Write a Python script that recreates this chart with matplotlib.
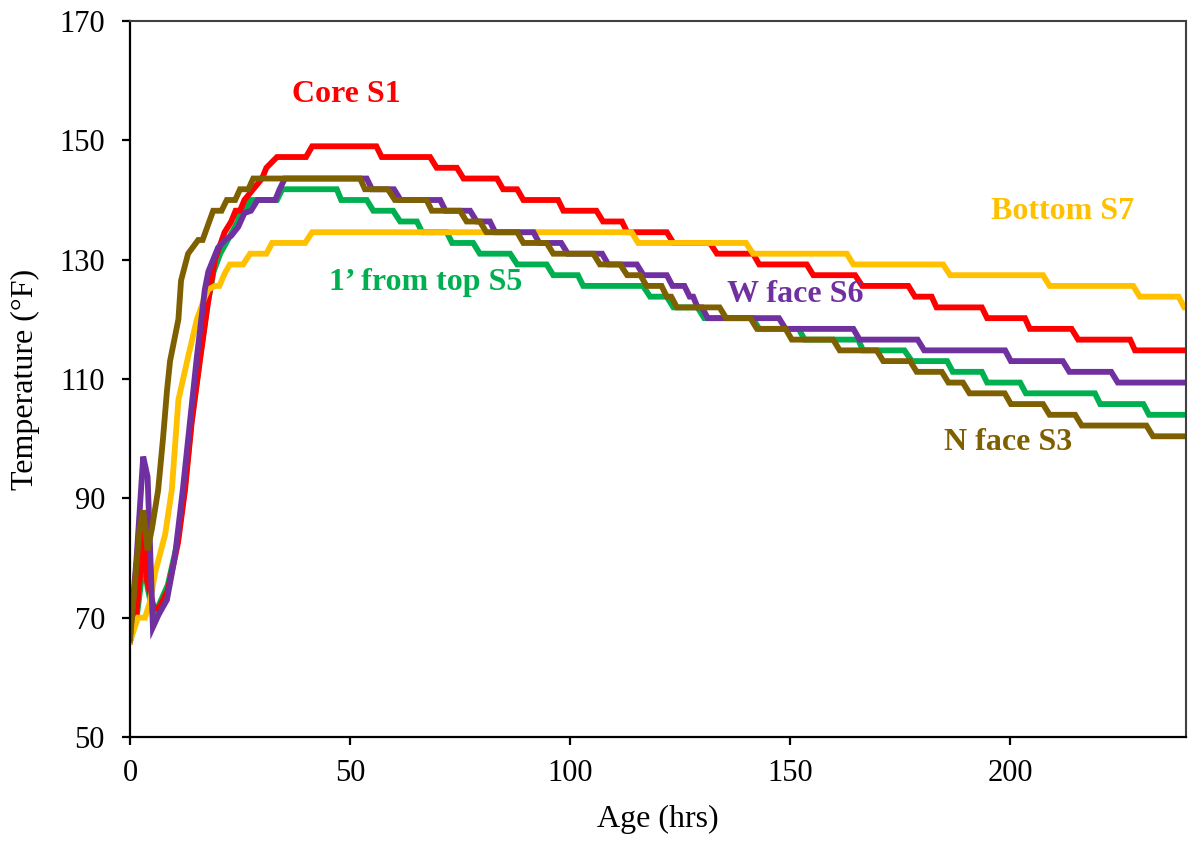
import numpy as np
import matplotlib
matplotlib.use("Agg")
import matplotlib.pyplot as plt

plt.rcParams["font.family"] = ["Liberation Serif", "DejaVu Serif"]

# (age in hrs, temperature in °F) breakpoints for each sensor
core_s1 = [(0, 66), (1.5, 71), (2.7, 80), (3.1, 84.5), (3.9, 76), (5.5, 71.5), (6.5, 71.5),
           (8.6, 74.6), (10.9, 82.5), (12.5, 91.4), (14, 102.6), (16, 113.7), (17.8, 123.2),
           (19.3, 130), (21.5, 134.6), (23, 136.4), (24, 138.2), (25, 138.2), (26, 140),
           (28, 141.8), (30, 143.6), (31, 145.4), (33.4, 147.2), (40, 147.2), (41.4, 149),
           (56, 149), (57.2, 147.2), (68.2, 147.2), (69.7, 145.4), (74.3, 145.4), (75.8, 143.6),
           (83.4, 143.6), (84.8, 141.8), (88, 141.8), (89.4, 140), (97.3, 140), (98.5, 138.2),
           (106, 138.2), (107.5, 136.4), (111.8, 136.4), (113, 134.6), (122, 134.6),
           (123.5, 132.8), (131.8, 132.8), (133.4, 131), (141.6, 131), (143, 129.2),
           (153.8, 129.2), (155.3, 127.4), (164.8, 127.4), (166.4, 125.6), (176.9, 125.6),
           (178.4, 123.8), (182.2, 123.8), (183.3, 122), (193.6, 122), (194.8, 120.2),
           (203.4, 120.2), (204.5, 118.4), (214, 118.4), (215.5, 116.6), (227.3, 116.6),
           (228.4, 114.8), (240, 114.8)]

top_s5 = [(0, 66), (1.5, 70), (2.7, 77), (3.2, 80), (4, 75), (5.3, 70.5), (6.5, 72),
          (8.6, 75.5), (10.9, 83), (12.5, 92), (14, 103), (15.8, 113), (17.5, 122), (19, 128),
          (20.5, 131), (22, 133), (24.5, 136.4), (25, 138.2), (26, 138.2), (27.5, 140),
          (33.4, 140), (34.6, 141.8), (47, 141.8), (48, 140), (53.8, 140), (55.3, 138.2),
          (59.8, 138.2), (61.4, 136.4), (65.2, 136.4), (66.4, 134.6), (72, 134.6),
          (73.2, 132.8), (78, 132.8), (79.5, 131), (86.4, 131), (88, 129.2), (94.7, 129.2),
          (96.2, 127.4), (101.8, 127.4), (103, 125.6), (116.6, 125.6), (118.2, 123.8),
          (122, 123.8), (123.5, 122), (129, 122), (130.5, 120.2), (141.5, 120.2),
          (143, 118.4), (152, 118.4), (153.3, 116.6), (165.5, 116.6), (166.6, 114.8),
          (176, 114.8), (177.7, 113), (185.7, 113), (187, 111.2), (193.6, 111.2),
          (194.8, 109.4), (202.3, 109.4), (203.6, 107.6), (219.3, 107.6), (220.5, 105.8),
          (230.3, 105.8), (231.6, 104), (240, 104)]

bottom_s7 = [(0, 66), (1.8, 70), (3.4, 70), (4.5, 72.5), (5.7, 77.5), (8, 84), (9.5, 91.4),
             (11, 106.5), (13.2, 113.7), (15.2, 120), (17, 123.7), (17.8, 125), (19.3, 125.6),
             (20.3, 125.6), (21.6, 127.8), (22.7, 129.2), (25.7, 129.2), (27.3, 131),
             (31, 131), (32.3, 132.8), (39.8, 132.8), (41.4, 134.6), (114, 134.6),
             (115.5, 132.8), (140, 132.8), (141.6, 131), (162.9, 131), (164.4, 129.2),
             (184.8, 129.2), (186.4, 127.4), (207.5, 127.4), (209, 125.6), (228, 125.6),
             (229.5, 123.8), (238.3, 123.8), (239.6, 122), (240, 122)]

wface_s6 = [(0, 66.8), (1.5, 80), (3, 97), (4, 93.6), (5.2, 68.4), (6.5, 70.5), (8.4, 73),
            (10.2, 80.2), (12, 91.4), (13.6, 102.6), (15.2, 113.7), (17, 125), (17.8, 128),
            (20, 132), (21.6, 133.3), (23, 134), (24.6, 135.5), (26, 137.8), (27.5, 138.2),
            (29, 140), (33, 140), (34, 141.8), (35.2, 143.6), (53.8, 143.6), (55, 141.8),
            (60, 141.8), (61.5, 140), (70.5, 140), (71.7, 138.2), (77.3, 138.2), (78.8, 136.4),
            (81.8, 136.4), (83, 134.6), (91.7, 134.6), (93, 132.8), (98, 132.8), (99.5, 131),
            (107.3, 131), (108.7, 129.2), (115.2, 129.2), (116.7, 127.4), (122, 127.4),
            (123.3, 125.6), (126, 125.6), (127.2, 123.8), (128, 123.8), (129, 122),
            (130, 122), (131.3, 120.2), (147.5, 120.2), (149, 118.4), (164.4, 118.4),
            (165.8, 116.6), (179, 116.6), (180.5, 114.8), (198.9, 114.8), (200.2, 113),
            (212, 113), (213.5, 111.2), (223, 111.2), (224.5, 109.4), (240, 109.4)]

nface_s3 = [(0, 66.3), (2.2, 85), (3, 88), (4, 81.3), (5, 85), (6.4, 91.4), (7.5, 100),
            (8.4, 108), (9.1, 113), (11, 120), (11.6, 126.5), (13.2, 131), (15.5, 133.3),
            (16.5, 133.3), (18.9, 138.2), (20.8, 138.2), (22, 140), (23.9, 140), (25, 141.8),
            (26.9, 141.8), (28, 143.6), (52.3, 143.6), (53.4, 141.8), (58.6, 141.8),
            (60.2, 140), (67.4, 140), (68.6, 138.2), (75, 138.2), (76.5, 136.4), (79.5, 136.4),
            (81, 134.6), (88, 134.6), (89.4, 132.8), (94.7, 132.8), (96.2, 131), (105.3, 131),
            (106.8, 129.2), (111.4, 129.2), (113, 127.4), (116, 127.4), (117.4, 125.6),
            (120.8, 125.6), (122, 123.8), (123, 123.8), (124.3, 122), (134, 122),
            (135.5, 120.2), (141, 120.2), (142.5, 118.4), (149, 118.4), (150.4, 116.6),
            (159.8, 116.6), (161.3, 114.8), (169.7, 114.8), (171.2, 113), (177.3, 113),
            (178.8, 111.2), (184.5, 111.2), (186, 109.4), (189.3, 109.4), (190.8, 107.6),
            (198.8, 107.6), (200.2, 105.8), (207.5, 105.8), (209, 104), (214.8, 104),
            (216.3, 102.2), (231, 102.2), (232.5, 100.4), (240, 100.4)]

# drawing order, colour, label text and label position (hrs, °F)
series = [
    (top_s5, "#00B050", "1\u2019 from top S5", (67.3, 126.1)),
    (core_s1, "#FF0000", "Core S1", (49.1, 157.6)),
    (bottom_s7, "#FFC000", "Bottom S7", (212.0, 138.0)),
    (wface_s6, "#7030A0", "W face S6", (151.1, 124.1)),
    (nface_s3, "#7F6000", "N face S3", (199.5, 99.3)),
]

fig = plt.figure(figsize=(11.88, 8.44), dpi=100)
ax = fig.add_axes([130 / 1188, 107 / 844, 1056 / 1188, 716 / 844])

for pts, color, name, (lx, ly) in series:
    t, temp = np.array(pts).T
    ax.plot(t, temp, color=color, lw=4.2, solid_joinstyle="miter")
    ax.text(lx, ly, name, color=color, fontsize=23, fontweight="bold",
            ha="center", va="center")

ax.set_xlim(0, 240)
ax.set_ylim(50, 170)
ax.set_xticks([0, 50, 100, 150, 200])
ax.set_yticks(np.arange(50, 171, 20))
ax.tick_params(labelsize=22, length=6, width=1.6, direction="out", color="black")
ax.tick_params(axis="x", pad=10)
ax.tick_params(axis="y", pad=12)

for side in ("left", "bottom"):
    ax.spines[side].set_linewidth(1.6)
    ax.spines[side].set_color("black")
for side in ("top", "right"):
    ax.spines[side].set_linewidth(1.5)
    ax.spines[side].set_color("#404040")

ax.set_xlabel("Age (hrs)", fontsize=23, labelpad=12)
ax.set_ylabel("Temperature (\u00b0F)", fontsize=23, labelpad=14)

fig.savefig("out.png", dpi=100)
